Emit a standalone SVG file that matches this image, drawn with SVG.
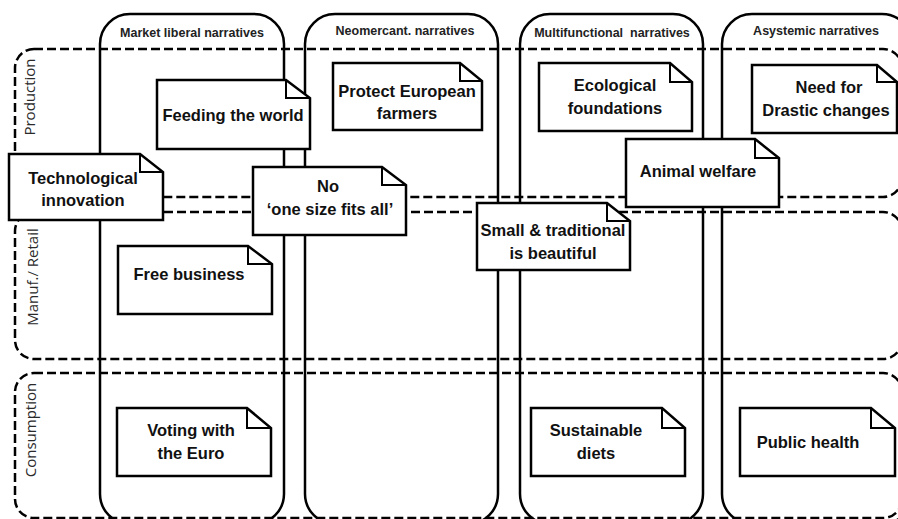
<svg xmlns="http://www.w3.org/2000/svg" width="898" height="519" viewBox="0 0 898 519">
<style>
.col{fill:none;stroke:#000;stroke-width:2.5}
.row{fill:none;stroke:#000;stroke-width:2.5;stroke-dasharray:9 4}
.note{fill:#fff;stroke:#000;stroke-width:2.5;stroke-linejoin:miter}
.fold{fill:none;stroke:#000;stroke-width:2}
.t{font-family:"Liberation Sans",Arial,sans-serif;font-weight:bold;font-size:16.5px;text-anchor:middle;fill:#111}
.h{font-family:"Liberation Sans",Arial,sans-serif;font-weight:bold;font-size:12.5px;text-anchor:middle;fill:#222}
.r{font-family:"Open Sans","DejaVu Sans",sans-serif;font-size:15px;text-anchor:middle;fill:#2a2a2a}
</style>
<rect width="898" height="519" fill="#fff"/>
<g id="rows">
<rect class="row" x="15" y="49" width="887" height="148" rx="19"/>
<rect class="row" x="15" y="212" width="887" height="147" rx="19"/>
<rect class="row" x="15" y="373" width="887" height="145" rx="19"/>
<text class="r" transform="translate(35,97) rotate(-90)">Production</text>
<text class="r" transform="translate(38,277) rotate(-90)">Manuf./ Retail</text>
<text class="r" transform="translate(36,430) rotate(-90)">Consumption</text>
</g>
<g id="columns">
<rect class="col" x="100" y="14" width="184" height="510" rx="30"/>
<rect class="col" x="305" y="14" width="193" height="510" rx="30"/>
<rect class="col" x="520" y="14" width="183" height="510" rx="30"/>
<rect class="col" x="722" y="14" width="190" height="510" rx="30"/>
<text class="h" x="192" y="37">Market liberal narratives</text>
<text class="h" x="405" y="35">Neomercant. narratives</text>
<text class="h" x="612" y="37" xml:space="preserve">Multifunctional  narratives</text>
<text class="h" x="816" y="35">Asystemic narratives</text>
</g>
<g id="connectors"/>
<g id="feeding">
<path class="note" d="M157,80 H286 L310,98 V149 H157 Z"/>
<path class="fold" d="M286,80 V98 H310"/>
<text class="t" x="233" y="121">Feeding the world</text>
</g>
<g id="protect">
<path class="note" d="M333,63 H460 L482,81 V130 H333 Z"/>
<path class="fold" d="M460,63 V81 H482"/>
<text class="t" x="407" y="97">Protect European</text>
<text class="t" x="407" y="119">farmers</text>
</g>
<g id="ecological">
<path class="note" d="M539,63 H670 L692,82 V131 H539 Z"/>
<path class="fold" d="M670,63 V82 H692"/>
<text class="t" x="615" y="91">Ecological</text>
<text class="t" x="615" y="114">foundations</text>
</g>
<g id="drastic">
<path class="note" d="M752,65 H877 L897,82 V133 H752 Z"/>
<path class="fold" d="M877,65 V82 H897"/>
<text class="t" x="829" y="93">Need for</text>
<text class="t" x="826" y="116">Drastic changes</text>
</g>
<g id="technological">
<path class="note" d="M9,154 H140 L163,172 V220 H9 Z"/>
<path class="fold" d="M140,154 V172 H163"/>
<text class="t" x="83" y="184">Technological</text>
<text class="t" x="83" y="206">innovation</text>
</g>
<g id="onesize">
<path class="note" d="M253,167 H382 L406,185 V235 H253 Z"/>
<path class="fold" d="M382,167 V185 H406"/>
<text class="t" x="328" y="192">No</text>
<text class="t" x="330" y="215">‘one size fits all’</text>
</g>
<g id="animal">
<path class="note" d="M626,139 H755 L779,158 V207 H626 Z"/>
<path class="fold" d="M755,139 V158 H779"/>
<text class="t" x="698" y="177">Animal welfare</text>
</g>
<g id="small">
<path class="note" d="M477,203 H607 L630,221 V270 H477 Z"/>
<path class="fold" d="M607,203 V221 H630"/>
<text class="t" x="553" y="236">Small &amp; traditional</text>
<text class="t" x="553" y="259">is beautiful</text>
</g>
<g id="freebusiness">
<path class="note" d="M118,246 H248 L272,264 V314 H118 Z"/>
<path class="fold" d="M248,246 V264 H272"/>
<text class="t" x="189" y="280">Free business</text>
</g>
<g id="voting">
<path class="note" d="M117,408 H247 L271,428 V476 H117 Z"/>
<path class="fold" d="M247,408 V428 H271"/>
<text class="t" x="191" y="436">Voting with</text>
<text class="t" x="191" y="459">the Euro</text>
</g>
<g id="sustainable">
<path class="note" d="M531,408 H662 L685,428 V476 H531 Z"/>
<path class="fold" d="M662,408 V428 H685"/>
<text class="t" x="596" y="436">Sustainable</text>
<text class="t" x="596" y="459">diets</text>
</g>
<g id="publichealth">
<path class="note" d="M740,408 H871 L895,428 V476 H740 Z"/>
<path class="fold" d="M871,408 V428 H895"/>
<text class="t" x="808" y="448">Public health</text>
</g>
</svg>
